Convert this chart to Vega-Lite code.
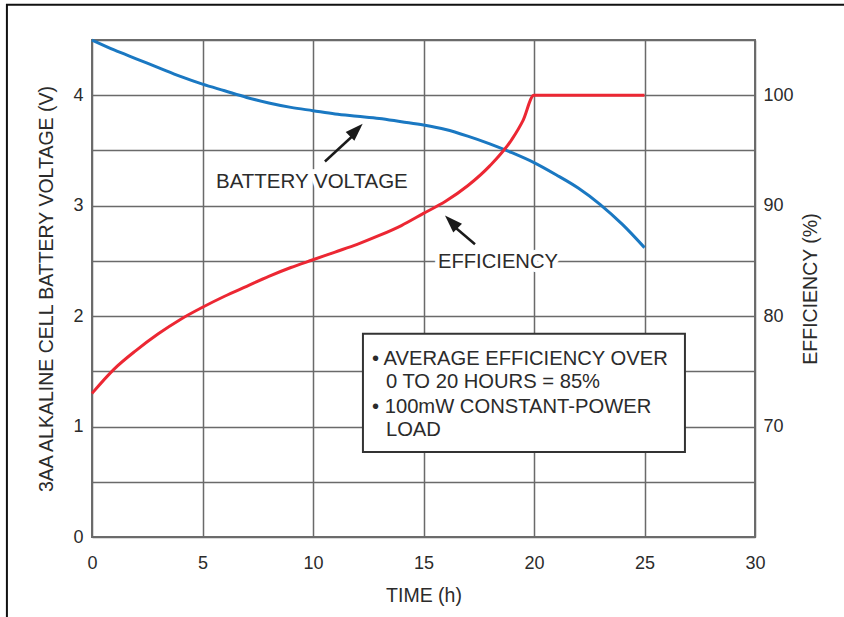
{
  "$schema": "https://vega.github.io/schema/vega-lite/v6.json",
  "width": 663,
  "height": 497,
  "autosize": {"type": "none"},
  "padding": {"left": 92, "top": 40, "right": 89, "bottom": 80},
  "background": "white",
  "config": {
    "view": {"stroke": "#6e6e6e", "strokeWidth": 2},
    "font": "Liberation Sans",
    "axis": {
      "labelFont": "Liberation Sans",
      "labelFontSize": 18,
      "labelColor": "#2b2b2b",
      "labelFlush": false,
      "titleFont": "Liberation Sans",
      "titleFontSize": 19.5,
      "titleFontWeight": "normal",
      "titleColor": "#2b2b2b",
      "ticks": false,
      "domain": false,
      "gridColor": "#6a6a6a",
      "gridWidth": 1.5,
      "gridOpacity": 1
    }
  },
  "datasets": {
    "voltage": [
      {"t": 0, "v": 4.5}, {"t": 1, "v": 4.41}, {"t": 2, "v": 4.33}, {"t": 3, "v": 4.25},
      {"t": 4, "v": 4.17}, {"t": 5, "v": 4.10}, {"t": 6, "v": 4.04}, {"t": 7, "v": 3.98},
      {"t": 8, "v": 3.93}, {"t": 9, "v": 3.89}, {"t": 10, "v": 3.86}, {"t": 11, "v": 3.83},
      {"t": 12, "v": 3.81}, {"t": 13, "v": 3.79}, {"t": 14, "v": 3.76}, {"t": 15, "v": 3.73},
      {"t": 16, "v": 3.69}, {"t": 17, "v": 3.63}, {"t": 18, "v": 3.56}, {"t": 19, "v": 3.48},
      {"t": 20, "v": 3.39}, {"t": 21, "v": 3.28}, {"t": 22, "v": 3.16}, {"t": 23, "v": 3.01},
      {"t": 24, "v": 2.83}, {"t": 25, "v": 2.62}
    ],
    "efficiency": [
      {"t": 0, "e": 73.0}, {"t": 1, "e": 75.2}, {"t": 2, "e": 76.9}, {"t": 3, "e": 78.4},
      {"t": 4, "e": 79.7}, {"t": 5, "e": 80.8}, {"t": 6, "e": 81.8}, {"t": 7, "e": 82.7},
      {"t": 8, "e": 83.6}, {"t": 9, "e": 84.4}, {"t": 10, "e": 85.1}, {"t": 11, "e": 85.8},
      {"t": 12, "e": 86.5}, {"t": 13, "e": 87.3}, {"t": 14, "e": 88.2}, {"t": 15, "e": 89.3},
      {"t": 16, "e": 90.4}, {"t": 17, "e": 91.8}, {"t": 18, "e": 93.6}, {"t": 19, "e": 96.0},
      {"t": 19.5, "e": 97.7}, {"t": 20, "e": 100}, {"t": 25, "e": 100}
    ]
  },
  "layer": [
    {
      "layer": [
        {
          "data": {"name": "voltage"},
          "mark": {"type": "line", "color": "#1a78c2", "strokeWidth": 3, "interpolate": "monotone"},
          "encoding": {
            "x": {
              "field": "t", "type": "quantitative",
              "scale": {"domain": [0, 30], "nice": false},
              "axis": {"title": "TIME (h)", "values": [0, 5, 10, 15, 20, 25, 30], "labelPadding": 17, "titlePadding": 14}
            },
            "y": {
              "field": "v", "type": "quantitative",
              "scale": {"domain": [0, 4.5], "nice": false},
              "axis": {
                "title": "3AA ALKALINE CELL BATTERY VOLTAGE (V)",
                "values": [0, 0.5, 1, 1.5, 2, 2.5, 3, 3.5, 4, 4.5],
                "labelExpr": "datum.value % 1 === 0 ? format(datum.value, 'd') : ''",
                "labelPadding": 9,
                "titlePadding": 16
              }
            }
          }
        },
        {
          "data": {"values": [{}]},
          "mark": {"type": "rect", "fill": "white", "stroke": "#333333", "strokeWidth": 2},
          "encoding": {
            "x": {"datum": 12.26}, "x2": {"datum": 26.83},
            "y": {"datum": 1.84}, "y2": {"datum": 0.77}
          }
        },
        {
          "data": {"values": [{}]},
          "mark": {"type": "rect", "fill": null, "fillOpacity": 0, "stroke": "#111111", "strokeWidth": 2, "clip": false},
          "encoding": {
            "x": {"datum": -3.85}, "x2": {"datum": 34.5},
            "y": {"datum": 4.82}, "y2": {"datum": -0.9}
          }
        },
        {
          "data": {"values": [{}]},
          "mark": {"type": "text", "font": "Liberation Sans", "fontSize": 20.2, "color": "#2b2b2b", "align": "left", "baseline": "alphabetic", "lineHeight": 48},
          "encoding": {
            "x": {"datum": 12.67}, "y": {"datum": 1.557},
            "text": {"value": ["• AVERAGE EFFICIENCY OVER", "• 100mW CONSTANT-POWER"]}
          }
        },
        {
          "data": {"values": [{}]},
          "mark": {"type": "text", "font": "Liberation Sans", "fontSize": 20.2, "color": "#2b2b2b", "align": "left", "baseline": "alphabetic", "lineHeight": 48},
          "encoding": {
            "x": {"datum": 13.3}, "y": {"datum": 1.349},
            "text": {"value": ["0 TO 20 HOURS = 85%", "LOAD"]}
          }
        },
        {
          "data": {"values": [{}]},
          "mark": {"type": "text", "font": "Liberation Sans", "fontSize": 20.5, "color": "white", "stroke": "white", "strokeWidth": 9, "align": "center", "baseline": "middle"},
          "encoding": {"x": {"datum": 9.95}, "y": {"datum": 3.215}, "text": {"value": "BATTERY VOLTAGE"}}
        },
        {
          "data": {"values": [{}]},
          "mark": {"type": "text", "font": "Liberation Sans", "fontSize": 20.5, "color": "#2b2b2b", "align": "center", "baseline": "middle"},
          "encoding": {"x": {"datum": 9.95}, "y": {"datum": 3.215}, "text": {"value": "BATTERY VOLTAGE"}}
        },
        {
          "data": {"values": [{}]},
          "mark": {"type": "text", "font": "Liberation Sans", "fontSize": 20.2, "color": "white", "stroke": "white", "strokeWidth": 9, "align": "center", "baseline": "middle"},
          "encoding": {"x": {"datum": 18.37}, "y": {"datum": 2.49}, "text": {"value": "EFFICIENCY"}}
        },
        {
          "data": {"values": [{}]},
          "mark": {"type": "text", "font": "Liberation Sans", "fontSize": 20.2, "color": "#2b2b2b", "align": "center", "baseline": "middle"},
          "encoding": {"x": {"datum": 18.37}, "y": {"datum": 2.49}, "text": {"value": "EFFICIENCY"}}
        },
        {
          "data": {"values": [{}]},
          "mark": {"type": "rule", "color": "#1a1a1a", "strokeWidth": 2.5},
          "encoding": {"x": {"datum": 10.54}, "y": {"datum": 3.40}, "x2": {"datum": 11.95}, "y2": {"datum": 3.66}}
        },
        {
          "data": {"values": [{}]},
          "mark": {"type": "point", "shape": "M0,-1L0.55,0.6L-0.55,0.6Z", "filled": true, "color": "#1a1a1a", "opacity": 1, "size": 500, "angle": 45},
          "encoding": {"x": {"datum": 11.89}, "y": {"datum": 3.67}}
        },
        {
          "data": {"values": [{}]},
          "mark": {"type": "rule", "color": "#1a1a1a", "strokeWidth": 2.5},
          "encoding": {"x": {"datum": 17.33}, "y": {"datum": 2.65}, "x2": {"datum": 16.28}, "y2": {"datum": 2.83}}
        },
        {
          "data": {"values": [{}]},
          "mark": {"type": "point", "shape": "M0,-1L0.55,0.6L-0.55,0.6Z", "filled": true, "color": "#1a1a1a", "opacity": 1, "size": 500, "angle": -45},
          "encoding": {"x": {"datum": 16.33}, "y": {"datum": 2.84}}
        }
      ]
    },
    {
      "data": {"name": "efficiency"},
      "mark": {"type": "line", "color": "#ec2733", "strokeWidth": 3, "interpolate": "monotone"},
      "encoding": {
        "x": {"field": "t", "type": "quantitative"},
        "y": {
          "field": "e", "type": "quantitative",
          "scale": {"domain": [60, 105], "nice": false},
          "axis": {"orient": "right", "title": "EFFICIENCY (%)", "titleAngle": 270, "titleBaseline": "top", "values": [70, 80, 90, 100], "grid": false, "labelPadding": 8, "titlePadding": 8}
        }
      }
    }
  ],
  "resolve": {"scale": {"y": "independent"}, "axis": {"y": "independent"}}
}
